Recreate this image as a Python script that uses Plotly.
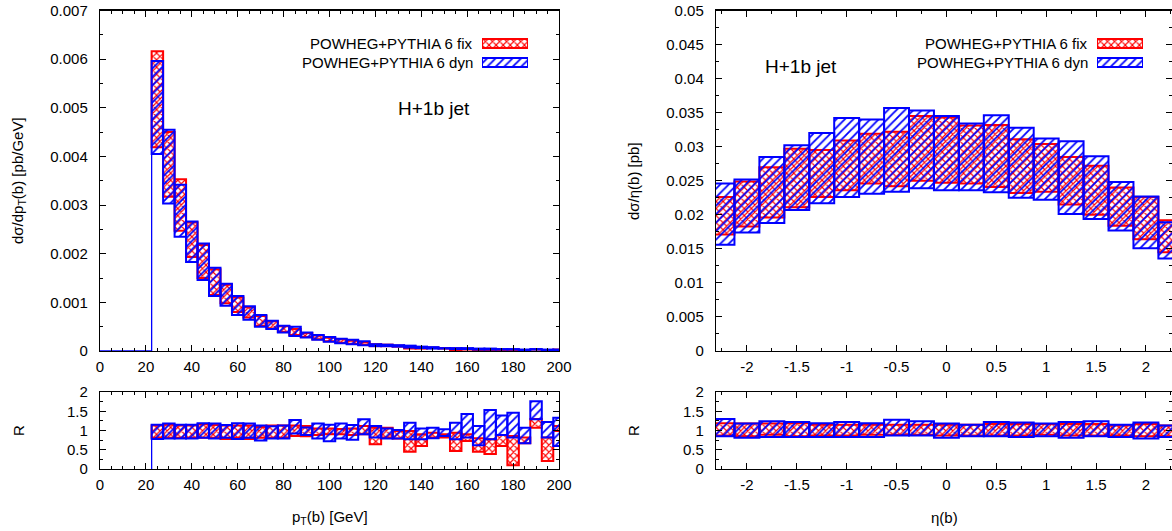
import plotly.graph_objects as go

# ---------------- data: pT(b) distribution ----------------
pt_centers = [25, 30, 35, 40, 45, 50, 55, 60, 65, 70, 75, 80, 85, 90, 95, 100, 105, 110,
              115, 120, 125, 130, 135, 140, 145, 150, 155, 160, 165, 170, 175, 180, 185, 190, 195, 200]
pt_bin_width = 5
pt_fix_lo = [0.00419, 0.00317, 0.00247, 0.00193, 0.00150, 0.00115, 0.00098, 0.00080, 0.00069, 0.00052,
             0.00046, 0.00039, 0.00033, 0.00029, 0.00024, 0.00020, 0.00017, 0.00015, 0.00013, 0.00010,
             0.00010, 0.00009, 0.00005, 0.00005, 0.00006, 0.00005, 0.00002, 0.00003, 0.00002, 0.00001,
             0.00002, 0.00001, 0.00002, 0.00003, 0.00001, 0.00002]
pt_fix_hi = [0.00616, 0.00450, 0.00353, 0.00264, 0.00218, 0.00168, 0.00136, 0.00110, 0.00090, 0.00072,
             0.00061, 0.00051, 0.00045, 0.00037, 0.00032, 0.00027, 0.00024, 0.00021, 0.00018, 0.00014,
             0.00013, 0.00011, 0.00010, 0.00008, 0.00007, 0.00006, 0.00005, 0.00004, 0.00003, 0.00003,
             0.00003, 0.00003, 0.00002, 0.00003, 0.00002, 0.00003]
pt_dyn_lo = [0.00405, 0.00303, 0.00235, 0.00183, 0.00146, 0.00113, 0.00093, 0.00074, 0.00064, 0.00050,
             0.00045, 0.00038, 0.00031, 0.00028, 0.00023, 0.00019, 0.00016, 0.00014, 0.00012, 0.00010,
             0.00010, 0.00009, 0.00007, 0.00006, 0.00005, 0.00005, 0.00004, 0.00004, 0.00003, 0.00003,
             0.00003, 0.00003, 0.00002, 0.00003, 0.00002, 0.00002]
pt_dyn_hi = [0.00596, 0.00455, 0.00342, 0.00266, 0.00221, 0.00171, 0.00138, 0.00113, 0.00092, 0.00074,
             0.00062, 0.00052, 0.00050, 0.00038, 0.00033, 0.00029, 0.00025, 0.00023, 0.00020, 0.00014,
             0.00013, 0.00012, 0.00011, 0.00009, 0.00008, 0.00006, 0.00006, 0.00006, 0.00005, 0.00005,
             0.00004, 0.00004, 0.00003, 0.00004, 0.00003, 0.00003]

pt_R_fix_lo = [0.81, 0.81, 0.81, 0.81, 0.81, 0.81, 0.78, 0.81, 0.78, 0.81, 0.81, 0.81, 0.86, 0.85, 0.88, 0.90,
               0.90, 0.88, 0.90, 0.64, 0.82, 0.79, 0.45, 0.60, 0.82, 0.82, 0.47, 0.73, 0.45, 0.39, 0.60, 0.10,
               0.67, 1.07, 0.21, 0.99]
pt_R_fix_hi = [1.13, 1.15, 1.13, 1.13, 1.16, 1.14, 1.13, 1.13, 1.13, 1.09, 1.13, 1.13, 1.13, 1.12, 1.05, 1.05,
               1.04, 1.05, 1.12, 1.07, 1.07, 0.99, 0.99, 0.90, 0.94, 0.90, 0.94, 0.90, 0.80, 0.77, 0.88, 0.86,
               0.82, 1.30, 0.82, 1.12]
pt_R_dyn_lo = [0.78, 0.79, 0.79, 0.79, 0.81, 0.79, 0.81, 0.78, 0.81, 0.74, 0.79, 0.79, 0.92, 0.88, 0.79, 0.72,
               0.79, 0.76, 0.90, 0.82, 0.79, 0.79, 0.77, 0.77, 0.80, 0.86, 0.77, 0.82, 0.62, 0.77, 0.88, 0.82,
               0.67, 1.29, 0.82, 0.60]
pt_R_dyn_hi = [1.15, 1.18, 1.15, 1.15, 1.19, 1.18, 1.14, 1.19, 1.18, 1.13, 1.11, 1.13, 1.27, 1.08, 1.18, 1.15,
               1.18, 1.14, 1.29, 1.12, 1.05, 1.01, 1.20, 1.05, 1.07, 1.03, 1.20, 1.43, 1.12, 1.53, 1.39, 1.46,
               1.07, 1.76, 1.22, 1.33]

# ---------------- data: eta(b) distribution ----------------
eta_centers = [-2.25, -2.0, -1.75, -1.5, -1.25, -1.0, -0.75, -0.5, -0.25, 0.0,
               0.25, 0.5, 0.75, 1.0, 1.25, 1.5, 1.75, 2.0, 2.25]
eta_bin_width = 0.25
eta_fix_lo = [0.0171, 0.0183, 0.0196, 0.0211, 0.0226, 0.0236, 0.0246, 0.0242, 0.0250, 0.0247,
              0.0246, 0.0241, 0.0232, 0.0234, 0.0215, 0.0200, 0.0184, 0.0164, 0.0145]
eta_fix_hi = [0.0226, 0.0249, 0.0270, 0.0297, 0.0295, 0.0309, 0.0319, 0.0322, 0.0345, 0.0343,
              0.0331, 0.0332, 0.0311, 0.0304, 0.0285, 0.0272, 0.0240, 0.0226, 0.0192]
eta_dyn_lo = [0.0156, 0.0174, 0.0188, 0.0207, 0.0217, 0.0226, 0.0231, 0.0234, 0.0239, 0.0236,
              0.0236, 0.0233, 0.0225, 0.0222, 0.0201, 0.0194, 0.0177, 0.0151, 0.0136]
eta_dyn_hi = [0.0246, 0.0252, 0.0285, 0.0302, 0.0320, 0.0342, 0.0340, 0.0357, 0.0353, 0.0345,
              0.0334, 0.0346, 0.0328, 0.0312, 0.0308, 0.0286, 0.0248, 0.0227, 0.0189]

eta_R_fix_lo = [0.87, 0.85, 0.89, 0.85, 0.87, 0.87, 0.89, 0.89, 0.89, 0.87, 0.87, 0.87, 0.87, 0.89, 0.87,
                0.87, 0.87, 0.85, 0.85]
eta_R_fix_hi = [1.19, 1.18, 1.18, 1.19, 1.15, 1.15, 1.15, 1.15, 1.15, 1.15, 1.15, 1.17, 1.17, 1.17, 1.17,
                1.17, 1.13, 1.17, 1.13]
eta_R_dyn_lo = [0.85, 0.81, 0.83, 0.83, 0.83, 0.83, 0.83, 0.87, 0.87, 0.81, 0.85, 0.85, 0.83, 0.85, 0.81,
                0.85, 0.83, 0.79, 0.83]
eta_R_dyn_hi = [1.30, 1.18, 1.24, 1.22, 1.19, 1.22, 1.19, 1.28, 1.24, 1.18, 1.15, 1.22, 1.21, 1.18, 1.22,
                1.24, 1.15, 1.21, 1.13]

# tick labels of the eta axis (plain hyphen minus, as in the original)
eta_tickvals = [-2, -1.5, -1, -0.5, 0, 0.5, 1, 1.5, 2]
eta_ticktext = ["-2", "-1.5", "-1", "-0.5", "0", "0.5", "1", "1.5", "2"]

label_fix = "POWHEG+PYTHIA 6 fix"
label_dyn = "POWHEG+PYTHIA 6 dyn"
process_label = "H+1b jet"

# ---------------- styling ----------------
RED = "#ff0000"
BLUE = "#0000ff"
FONT = "Liberation Sans, Arial, sans-serif"
W, H = 1172, 531


def px_x(p):
    return p / W


def px_y(p):
    return 1 - p / H


def band(xs, lo, hi, width, style, xa, ya):
    color = RED if style == "fix" else BLUE
    if style == "fix":
        pattern = dict(shape="x", size=5, solidity=0.4)
    else:
        pattern = dict(shape="/", size=6, solidity=0.3)
    return go.Bar(
        x=xs, base=lo, y=[h - l for l, h in zip(lo, hi)], width=width,
        marker=dict(color=color, pattern=dict(fillmode="replace", fgcolor=color, **pattern),
                    line=dict(color=color, width=2)),
        xaxis=xa, yaxis=ya, showlegend=False, hoverinfo="skip",
    )


fig = go.Figure()

# left main
fig.add_trace(band(pt_centers, pt_fix_lo, pt_fix_hi, pt_bin_width, "fix", "x", "y"))
fig.add_trace(band(pt_centers, pt_dyn_lo, pt_dyn_hi, pt_bin_width, "dyn", "x", "y"))
edge0 = pt_centers[0] - pt_bin_width / 2
fig.add_trace(go.Scatter(x=[0, edge0, edge0], y=[0, 0, min(pt_fix_lo[0], pt_dyn_lo[0])], mode="lines",
                         line=dict(color=BLUE, width=1.3), xaxis="x", yaxis="y", showlegend=False))
# left ratio
fig.add_trace(band(pt_centers, pt_R_fix_lo, pt_R_fix_hi, pt_bin_width, "fix", "x2", "y2"))
fig.add_trace(band(pt_centers, pt_R_dyn_lo, pt_R_dyn_hi, pt_bin_width, "dyn", "x2", "y2"))
fig.add_trace(go.Scatter(x=[edge0, edge0], y=[0, min(pt_R_fix_lo[0], pt_R_dyn_lo[0])], mode="lines",
                         line=dict(color=BLUE, width=1.3), xaxis="x2", yaxis="y2", showlegend=False))
# right main
fig.add_trace(band(eta_centers, eta_fix_lo, eta_fix_hi, eta_bin_width, "fix", "x3", "y3"))
fig.add_trace(band(eta_centers, eta_dyn_lo, eta_dyn_hi, eta_bin_width, "dyn", "x3", "y3"))
# right ratio
fig.add_trace(band(eta_centers, eta_R_fix_lo, eta_R_fix_hi, eta_bin_width, "fix", "x4", "y4"))
fig.add_trace(band(eta_centers, eta_R_dyn_lo, eta_R_dyn_hi, eta_bin_width, "dyn", "x4", "y4"))

# legend keys (gnuplot style: text then sample box)
for xa, ya in (("x5", "y5"), ("x6", "y6")):
    fig.add_trace(band([0.5], [20], [29], 1, "fix", xa, ya))
    fig.add_trace(band([0.5], [1], [10], 1, "dyn", xa, ya))

left_dom = [px_x(100), px_x(559)]
right_dom = [px_x(716), 1.0]
main_dom = [px_y(351), px_y(10.5)]
ratio_dom = [px_y(469), px_y(392)]

tickfont = dict(family=FONT, size=15, color="black")


def ax(domain, rng, dtick, minor, anchor, standoff=4, **kw):
    return dict(domain=domain, range=rng, dtick=dtick, tick0=0, anchor=anchor,
                showline=True, linecolor="black", linewidth=1.2, mirror="allticks",
                ticks="inside", ticklen=6, tickwidth=1, tickcolor="black",
                minor=dict(dtick=minor, ticks="inside", ticklen=3, tickcolor="black", showgrid=False),
                showgrid=False, zeroline=False, tickfont=tickfont, ticklabelstandoff=standoff,
                automargin=False, **kw)


pt_range = [0, 200]
eta_range = [-2.31, (1172 - 946.3) / 99.8]
eta_ticks = dict(tickmode="array", tickvals=eta_tickvals, ticktext=eta_ticktext)

fig.update_layout(
    width=W, height=H, margin=dict(l=0, r=0, t=0, b=0, pad=0), autosize=False,
    paper_bgcolor="white", plot_bgcolor="white", barmode="overlay", showlegend=False,
    font=dict(family=FONT, size=15, color="black"),
    xaxis=ax(left_dom, pt_range, 20, 5, "y", standoff=2),
    yaxis=ax(main_dom, [0, 0.007], 0.001, 0.0005, "x", standoff=8),
    xaxis2=ax(left_dom, pt_range, 20, 5, "y2", standoff=2),
    yaxis2=ax(ratio_dom, [0, 2], 0.5, 0.25, "x2", standoff=8),
    xaxis3=ax(right_dom, eta_range, 0.5, 0.25, "y3", standoff=2, **eta_ticks),
    yaxis3=ax(main_dom, [0, 0.05], 0.005, 0.0025, "x3", standoff=8),
    xaxis4=ax(right_dom, eta_range, 0.5, 0.25, "y4", standoff=2, **eta_ticks),
    yaxis4=ax(ratio_dom, [0, 2], 0.5, 0.25, "x4", standoff=8),
    xaxis5=dict(domain=[px_x(482), px_x(528)], range=[0, 1], visible=False, anchor="y5"),
    yaxis5=dict(domain=[px_y(68), px_y(38)], range=[0, 30], visible=False, anchor="x5"),
    xaxis6=dict(domain=[px_x(1097), px_x(1143)], range=[0, 1], visible=False, anchor="y6"),
    yaxis6=dict(domain=[px_y(68), px_y(38)], range=[0, 30], visible=False, anchor="x6"),
)

ann = []


def text(x, y, s, size=15, xanchor="center", angle=0):
    ann.append(dict(x=px_x(x), y=px_y(y), xref="paper", yref="paper", text=s, showarrow=False,
                    xanchor=xanchor, yanchor="middle", textangle=angle,
                    font=dict(family=FONT, size=size, color="black")))


text(475, 44, label_fix, xanchor="right")
text(475, 62, label_dyn, xanchor="right")
text(1090, 44, label_fix, xanchor="right")
text(1090, 62, label_dyn, xanchor="right")
text(434, 108, process_label, size=19)
text(801, 67, process_label, size=19)
text(18, 181, "dσ/dp<sub>T</sub>(b) [pb/GeV]", angle=-90)
text(18, 431, "R", angle=-90)
text(633, 181, "dσ/η(b) [pb]", angle=-90)
text(633, 431, "R", angle=-90)
text(330, 517, "p<sub>T</sub>(b) [GeV]")
text(944, 517, "η(b)")
fig.update_layout(annotations=ann)

fig.write_html("out.html", config={"displayModeBar": False, "staticPlot": True},
               post_script="document.body.style.margin='0';document.body.style.padding='0';"
                           "document.documentElement.style.overflow='hidden';")
